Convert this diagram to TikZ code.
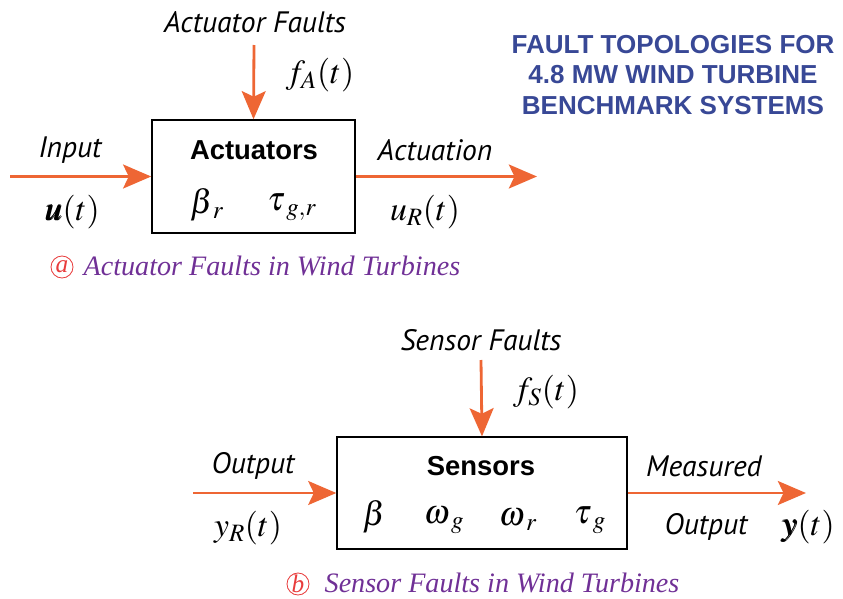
\documentclass[tikz,border=0pt]{standalone}
\usepackage{amsmath}
\usepackage{mathptmx}
\usepackage{bm}
\usepackage{fontspec}
\setmainfont{Liberation Serif}
\setsansfont{Liberation Sans}
\newfontfamily\labelfont{PT Sans}
\usetikzlibrary{arrows.meta}
\definecolor{flowcol}{RGB}{238,102,52}
\definecolor{titlecol}{RGB}{56,72,150}
\definecolor{capcol}{RGB}{112,48,150}
\definecolor{tagcol}{RGB}{232,60,60}
\newcommand*{\sbsp}{\mkern3mu}

\begin{document}
\begin{tikzpicture}[x=0.025cm,y=-0.025cm,
  block/.style={draw=black,line width=0.9pt,inner sep=0pt},
  flow/.style={draw=flowcol,line width=2pt,-{Stealth[length=20pt,width=17pt,inset=4pt]}},
  lbl/.style={font=\labelfont\itshape\fontsize{21}{24}\selectfont},
  blkname/.style={font=\sffamily\bfseries\fontsize{19.5}{22}\selectfont},
  sym/.style={inner sep=1pt,font=\fontsize{24}{28}\selectfont},
  caption/.style={anchor=west,inner sep=1pt,font=\rmfamily\itshape\fontsize{20}{24}\selectfont,text=capcol},
  tag/.style={circle,draw=tagcol,line width=0.6pt,inner sep=0pt,minimum size=0.55cm,
    text=tagcol,font=\rmfamily\itshape\fontsize{18}{20}\selectfont},
  title/.style={font=\sffamily\bfseries\fontsize{18.5}{21.5}\selectfont,text=titlecol,align=center}]
\useasboundingbox (0,0) rectangle (843,599);

% title
\node[title] (title) at (673,75) {FAULT TOPOLOGIES FOR\\4.8 MW WIND TURBINE\\BENCHMARK SYSTEMS};

% (a) actuators
\node[block,minimum width=5.08cm,minimum height=2.83cm] (act) at (253.5,176.5) {};
\node[blkname] (actname) at (254,150) {Actuators};
\node[sym] (betar) at (207,205) {$\beta_{\sbsp r}$};
\node[sym] (taugr) at (292,207) {$\tau_{\sbsp g,r}$};
\coordinate (uin) at (10,176.5);
\coordinate (uout) at (537,176.5);
\coordinate (fain) at (254,45);
\draw[flow] (uin) -- (act.west);
\draw[flow] (act.east) -- (uout);
\draw[flow] (fain) -- (act.north);
\node[lbl] (afaults) at (255,22) {Actuator Faults};
\node[sym] (fa) at (320,75) {$f_A(t)$};
\node[lbl] (input) at (70,150) {Input};
\node[sym] (ut) at (72,212) {$\bm{u}(t)$};
\node[lbl] (actuation) at (435,150) {Actuation};
\node[sym] (urt) at (425,212) {$u_R(t)$};
\node[tag] (taga) at (62,267) {a};
\node[caption] (capa) at (82,266) {Actuator Faults in Wind Turbines};

% (b) sensors
\node[block,minimum width=7.25cm,minimum height=2.8cm] (sens) at (482,493) {};
\node[blkname] (sensname) at (481,466) {Sensors};
\node[sym] (beta) at (374,517) {$\beta$};
\node[sym] (omg) at (444,520) {$\omega_{\sbsp g}$};
\node[sym] (omr) at (518,520) {$\omega_{\sbsp r}$};
\node[sym] (taug) at (590,520) {$\tau_{\sbsp g}$};
\coordinate (yin) at (193,493);
\coordinate (yout) at (806,493);
\coordinate (fsin) at (481,360);
\draw[flow] (yin) -- (sens.west);
\draw[flow] (sens.east) -- (yout);
\draw[flow] (fsin) -- (sens.north);
\node[lbl] (sfaults) at (481,340) {Sensor Faults};
\node[sym] (fs) at (546,392) {$f_S(t)$};
\node[lbl] (output) at (253,466) {Output};
\node[sym] (yrt) at (248,528) {$y_R(t)$};
\node[lbl] (measured) at (704,466) {Measured};
\node[lbl] (moutput) at (706,527) {Output};
\node[sym] (yt) at (808,527) {$\bm{y}(t)$};
\node[tag] (tagb) at (298,584) {b};
\node[caption] (capb) at (323,583) {Sensor Faults in Wind Turbines};
\end{tikzpicture}
\end{document}
